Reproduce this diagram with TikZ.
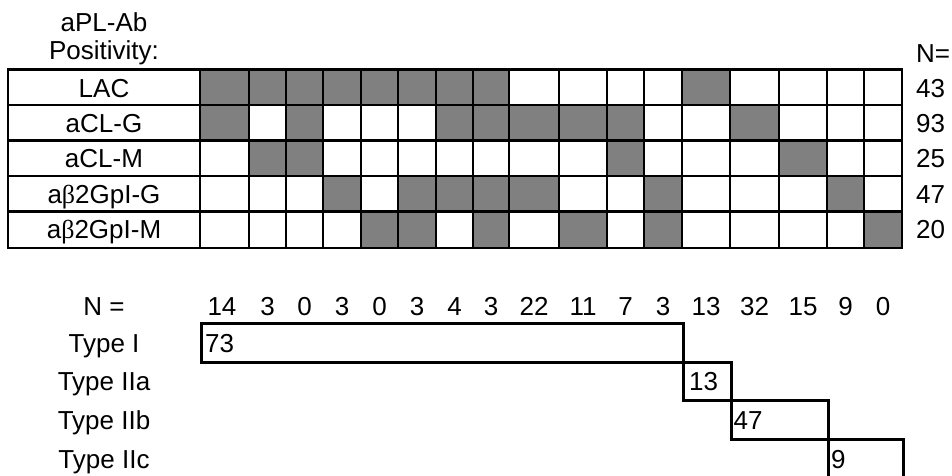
\documentclass[tikz,border=0pt]{standalone}
\usepackage{fontspec}
\setmainfont{Liberation Sans}
\newfontfamily\betafont{Liberation Serif}
\definecolor{cellgray}{HTML}{808080}
\begin{document}
\begin{tikzpicture}[x=1pt,y=-1pt,
  every node/.style={font=\fontsize{26}{30}\selectfont, inner sep=0pt},
  lbl/.style={anchor=base},
  gridline/.style={line width=2.8pt},
  typebox/.style={draw, line width=3pt, anchor=north west},
  boxtext/.style={anchor=base west}]
\useasboundingbox (0,0) rectangle (952,475);
% column boundaries
\foreach \i/\x in {0/200,1/249,2/286,3/323,4/361,5/398,6/436,7/473,8/509,9/559,10/607,11/644,12/682,13/730,14/779,15/827,16/864,17/902}
  \coordinate (c\i) at (\x,0);
% row boundaries
\foreach \i/\y in {0/69.5,1/105,2/140.5,3/176,4/211.5,5/248}
  \coordinate (r\i) at (0,\y);
% gray cells
\foreach \r/\cols in {1/{1,2,3,4,5,6,7,8,13},2/{1,3,7,8,9,10,11,14},3/{2,3,11,15},4/{4,6,7,8,9,12,16},5/{5,6,8,10,12,17}}{
  \foreach \c in \cols {
    \pgfmathtruncatemacro\cp{\c-1}
    \pgfmathtruncatemacro\rp{\r-1}
    \fill[cellgray] (c\cp |- r\rp) rectangle (c\c |- r\r);
  }
}
% grid
\foreach \i in {1,...,4}
  \draw[gridline] (8,0 |- r\i) -- (c17 |- r\i);
\foreach \i in {0,...,16}
  \draw[gridline] (c\i |- r0) -- (c\i |- r5);
\draw[gridline] (8,0 |- r0) rectangle (c17 |- r5);
% headings
\node[lbl] (h1) at (104,31) {aPL-Ab};
\node[lbl] (h2) at (104,59) {Positivity:};
\node[anchor=base west] (hn) at (916,62) {N=};
% row labels
\node[lbl] (lac) at (104,97) {LAC};
\node[lbl] (aclg) at (104,132.5) {aCL-G};
\node[lbl] (aclm) at (104,167.5) {aCL-M};
\node[lbl] (abg) at (104,203) {a{\betafont β}2GpI-G};
\node[lbl] (abm) at (104,238.5) {a{\betafont β}2GpI-M};
% row totals
\node[anchor=base west] (n1) at (916,97) {43};
\node[anchor=base west] (n2) at (916,132.5) {93};
\node[anchor=base west] (n3) at (916,167.5) {25};
\node[anchor=base west] (n4) at (916,203) {47};
\node[anchor=base west] (n5) at (916,238.5) {20};
% column counts
\node[lbl] (nlab) at (104,315) {N =};
\foreach \x/\v [count=\k] in {222/14,267.5/3,304.5/0,342/3,379.5/0,417/3,454.5/4,491/3,534/22,583/11,625.5/7,663/3,706/13,754.5/32,803/15,845.5/9,883/0}
  \node[lbl] (cnt\k) at (\x,315) {\v};
% types
\node[lbl] (t1l) at (104,352) {Type I};
\node[lbl] (t2l) at (104,390) {Type IIa};
\node[lbl] (t3l) at (104,429) {Type IIb};
\node[lbl] (t4l) at (104,468) {Type IIc};
\node[typebox, minimum width=482pt, minimum height=39pt] (t1) at (200,322) {};
\node[typebox, minimum width=48pt, minimum height=38pt] (t2) at (682,361) {};
\node[typebox, minimum width=97pt, minimum height=39pt] (t3) at (730,399) {};
\node[typebox, minimum width=75pt, minimum height=60pt] (t4) at (827,438) {};
\node[boxtext] (v1) at (205,352) {73};
\node[boxtext] (v2) at (689,390) {13};
\node[boxtext] (v3) at (733.5,429) {47};
\node[boxtext] (v4) at (831,468) {9};
\end{tikzpicture}
\end{document}
